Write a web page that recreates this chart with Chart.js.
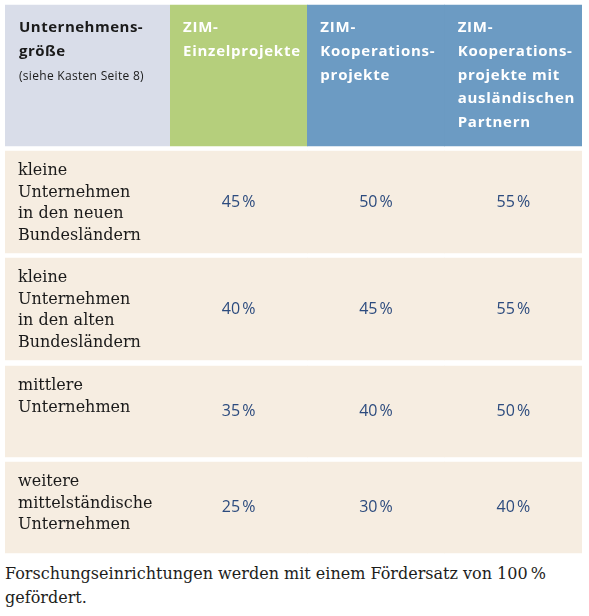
<!DOCTYPE html>
<html><head><meta charset="utf-8">
<script src="https://cdn.jsdelivr.net/npm/chart.js@4.4.1/dist/chart.umd.min.js"></script>
<style>
html,body{margin:0;padding:0;background:#fff;}
#wrap{position:relative;width:589px;height:616px;overflow:hidden;background:#fff;}
#left{position:absolute;left:0;top:0;}
#right{position:absolute;left:170px;top:0;}
#note{position:absolute;left:5px;top:562px;font-family:"DejaVu Serif";font-size:16px;line-height:24px;color:#1d1d1b;white-space:nowrap;}
#note span{display:inline-block;}
</style></head><body>
<div id="wrap">
<canvas id="left" width="170" height="560"></canvas>
<canvas id="right" width="419" height="560"></canvas>
<div id="note"><span id="l1"></span><br><span id="l2"></span></div>
</div>
<script>
// ---- data ----
const headerTitle = ["Unternehmens-", "größe"];
const headerNote = "(siehe Kasten Seite 8)";
const columns = [
  ["ZIM-", "Einzelprojekte"],
  ["ZIM-", "Kooperations-", "projekte"],
  ["ZIM-", "Kooperations-", "projekte mit", "ausländischen", "Partnern"]
];
const categories = [
  ["kleine", "Unternehmen", "in den neuen", "Bundesländern"],
  ["kleine", "Unternehmen", "in den alten", "Bundesländern"],
  ["mittlere", "Unternehmen"],
  ["weitere", "mittelständische", "Unternehmen"]
];
const einzelprojekte = [45, 40, 35, 25];
const kooperationsprojekte = [50, 45, 40, 30];
const auslaendischePartner = [55, 55, 50, 40];
const footnoteLines = ["Forschungseinrichtungen werden mit einem Fördersatz von 100\u202F%", "gefördert."];

// ---- layout / style ----
const HEADER_TOP = 5, HEADER_H = 141;
const ROW_GAPS = [5, 5, 6, 5];
const ROW_HEIGHTS = [102, 102, 91, 91];
const C_LAVENDER = "#d9dde9", C_GREEN = "#b5cf7c", C_BLUE = "#6c9bc3", C_BEIGE = "#f6ede1";
const C_TEXT = "#1a1a1a", C_VALUE = "#2c4b7e";
const HEADER_COLORS = [C_GREEN, C_BLUE, C_BLUE];

const headerSpan = [HEADER_TOP, HEADER_TOP + HEADER_H];
const rowSpans = [];
let cur = headerSpan[1];
ROW_HEIGHTS.forEach((h, i) => { const t = cur + ROW_GAPS[i]; rowSpans.push([t, t + h]); cur = t + h; });
const valueSeries = [einzelprojekte, kooperationsprojekte, auslaendischePartner];

const SANS = '"Open Sans", sans-serif';
const SERIF = '"DejaVu Serif", serif';

function box(el) {
  const top = Math.min(el.y, el.base), bottom = Math.max(el.y, el.base);
  return { left: el.x - el.width / 2, right: el.x + el.width / 2, top, bottom, cx: el.x, cy: (top + bottom) / 2 };
}

const commonScales = {
  y: { type: 'linear', min: 0, max: 560, reverse: true, display: false, grid: { display: false } }
};
const barDefaults = { grouped: false, categoryPercentage: 1, barPercentage: 1, borderWidth: 0 };

// left chart: the category column
const leftTextPlugin = {
  id: 'leftText',
  afterDatasetsDraw(chart) {
    const ctx = chart.ctx;
    ctx.save();
    ctx.textAlign = 'left'; ctx.textBaseline = 'alphabetic';
    const hb = box(chart.getDatasetMeta(0).data[0]);
    ctx.fillStyle = C_TEXT;
    ctx.font = 'bold 15px ' + SANS; ctx.letterSpacing = '0.5px';
    headerTitle.forEach((t, i) => ctx.fillText(t, hb.left + 14, hb.top + 27 + i * 24));
    ctx.font = '12px ' + SANS; ctx.letterSpacing = '0.3px';
    ctx.fillText(headerNote, hb.left + 14, hb.top + 75);
    ctx.font = '16px ' + SERIF; ctx.letterSpacing = '0px';
    categories.forEach((lines, r) => {
      const b = box(chart.getDatasetMeta(r + 1).data[0]);
      lines.forEach((t, i) => ctx.fillText(t, b.left + 13, b.top + 24 + i * 21.7));
    });
    ctx.restore();
  }
};
new Chart(document.getElementById('left'), {
  type: 'bar',
  data: {
    labels: [headerTitle],
    datasets: [
      Object.assign({ label: 'Unternehmensgröße', data: [headerSpan], backgroundColor: C_LAVENDER }, barDefaults),
      ...categories.map((c, r) => Object.assign({ label: c.join(' '), data: [rowSpans[r]], backgroundColor: C_BEIGE }, barDefaults))
    ]
  },
  options: {
    responsive: false, animation: false, events: [],
    layout: { padding: { left: 5, right: 0, top: 0, bottom: 0 } },
    plugins: { legend: { display: false }, tooltip: { enabled: false } },
    scales: Object.assign({ x: { type: 'category', display: false, offset: true, grid: { display: false } } }, commonScales)
  },
  plugins: [leftTextPlugin]
});

// right chart: the three funding columns
const rightTextPlugin = {
  id: 'rightText',
  afterDatasetsDraw(chart) {
    const ctx = chart.ctx;
    ctx.save();
    ctx.textBaseline = 'alphabetic';
    ctx.textAlign = 'left';
    ctx.fillStyle = '#ffffff';
    ctx.font = 'bold 15px ' + SANS; ctx.letterSpacing = '0.75px';
    chart.getDatasetMeta(0).data.forEach((el, j) => {
      const b = box(el);
      columns[j].forEach((t, i) => ctx.fillText(t, b.left + 13, b.top + 27 + i * 23.8));
    });
    ctx.textAlign = 'center';
    ctx.fillStyle = C_VALUE;
    ctx.font = '16px ' + SANS; ctx.letterSpacing = '1px';
    categories.forEach((c, r) => {
      chart.getDatasetMeta(r + 1).data.forEach((el, j) => {
        const b = box(el);
        ctx.fillText(valueSeries[j][r] + '\u202F%', b.cx, b.cy + 4.5);
      });
    });
    ctx.restore();
  }
};
new Chart(document.getElementById('right'), {
  type: 'bar',
  data: {
    labels: columns,
    datasets: [
      Object.assign({ label: 'Kopf', data: columns.map(() => headerSpan), backgroundColor: HEADER_COLORS }, barDefaults),
      ...categories.map((c, r) => Object.assign({ label: c.join(' '), data: columns.map(() => rowSpans[r]), backgroundColor: C_BEIGE }, barDefaults))
    ]
  },
  options: {
    responsive: false, animation: false, events: [],
    layout: { padding: { left: 0, right: 7, top: 0, bottom: 0 } },
    plugins: { legend: { display: false }, tooltip: { enabled: false } },
    scales: Object.assign({ x: { type: 'category', display: false, offset: true, grid: { display: false } } }, commonScales)
  },
  plugins: [rightTextPlugin]
});

// footnote
document.getElementById('l1').textContent = footnoteLines[0];
document.getElementById('l2').textContent = footnoteLines[1];
</script>
</body></html>
